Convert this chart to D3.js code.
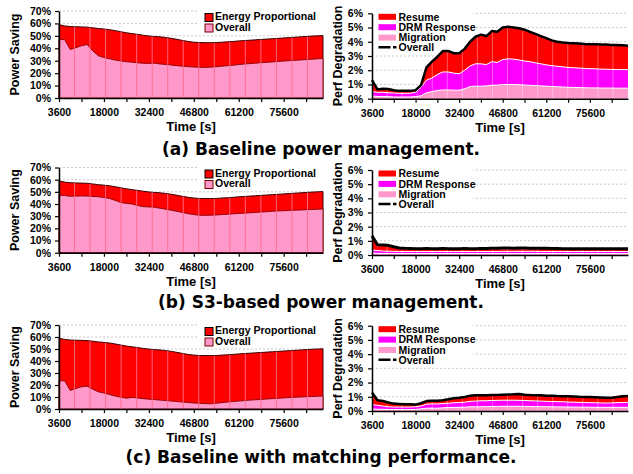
<!DOCTYPE html>
<html><head><meta charset="utf-8">
<script src="https://cdn.jsdelivr.net/npm/d3@7"></script>
<style>
body{margin:0;background:#fff}
svg{display:block}
text{font-family:"Liberation Sans",Arial,sans-serif;font-weight:bold;fill:#000}
</style>
</head><body>
<svg id="chart" width="633" height="474"></svg>
<script>
// ---------- data ----------
const timeSec = [
  3600, 5400, 7200, 9000, 10800, 12600, 14400, 16200, 18000, 19800,
  21600, 23400, 25200, 27000, 28800, 30600, 32400, 34200, 36000, 37800,
  39600, 41400, 43200, 45000, 46800, 48600, 50400, 52200, 54000, 55800,
  57600, 59400, 61200, 63000, 64800, 66600, 68400, 70200, 72000, 73800,
  75600, 77400, 79200, 81000, 82800, 84600, 86400, 88200];
const xLabelTicks = [3600, 18000, 32400, 46800, 61200, 75600];
const xMinorTicks = [3600, 10800, 18000, 25200, 32400, 39600, 46800, 54000, 61200, 68400, 75600, 82800];
const savingTicks = [0, 10, 20, 30, 40, 50, 60, 70];
const degradTicks = [0, 1, 2, 3, 4, 5, 6];
const captions = ["(a) Baseline power management.", "(b) S3-based power management.", "(c) Baseline with matching performance."];
const savingLegend = ["Energy Proportional", "Overall"];
const degradLegend = ["Resume", "DRM Response", "Migration", "Overall"];

// Power saving (%)
const energyProportional = [
  59.0, 58.0, 57.5, 57.3, 57.2, 57.0, 56.5, 55.9, 55.5, 55.0,
  54.2, 53.3, 52.5, 51.8, 51.2, 50.5, 49.9, 49.5, 49.2, 48.7,
  48.0, 47.2, 46.3, 45.5, 44.9, 44.6, 44.5, 44.5, 44.6, 44.9,
  45.2, 45.5, 45.9, 46.2, 46.5, 46.8, 47.1, 47.4, 47.7, 48.0,
  48.3, 48.6, 48.9, 49.2, 49.5, 49.8, 50.0, 50.2];
const savingA = [
  47.0, 47.0, 39.0, 40.5, 42.0, 43.0, 38.0, 34.0, 32.5, 31.5,
  30.5, 29.8, 29.2, 28.8, 28.3, 27.9, 27.8, 28.0, 27.4, 27.0,
  26.5, 26.0, 25.6, 25.2, 24.9, 24.7, 24.6, 24.8, 25.2, 25.6,
  26.0, 26.4, 26.9, 27.3, 27.7, 28.0, 28.4, 28.7, 29.0, 29.4,
  29.7, 30.0, 30.3, 30.6, 30.9, 31.2, 31.5, 31.8];
const savingB = [
  47.2, 47.0, 46.3, 46.5, 46.6, 46.5, 46.2, 46.0, 45.3, 44.5,
  43.0, 41.2, 40.5, 40.0, 38.8, 37.8, 37.6, 37.3, 36.5, 35.7,
  34.9, 34.0, 33.0, 32.0, 31.3, 30.8, 30.7, 30.8, 31.0, 31.3,
  31.6, 31.9, 32.2, 32.5, 32.8, 33.1, 33.4, 33.7, 34.0, 34.3,
  34.5, 34.7, 34.9, 35.1, 35.3, 35.5, 35.7, 35.9];
const savingC = [
  23.5, 23.5, 15.5, 17.0, 18.5, 19.0, 16.5, 14.3, 13.3, 12.0,
  10.8, 9.8, 9.0, 9.6, 9.2, 8.6, 8.2, 7.8, 7.4, 7.0,
  6.6, 6.2, 5.8, 5.4, 5.0, 4.7, 4.5, 4.3, 4.8, 5.3,
  5.8, 6.2, 6.6, 7.0, 7.4, 7.7, 8.0, 8.3, 8.6, 8.9,
  9.2, 9.5, 9.8, 10.0, 10.2, 10.4, 10.6, 10.8];

// Perf degradation (%) components
const migrationA = [
  0.2, 0.15, 0.15, 0.15, 0.12, 0.12, 0.12, 0.12, 0.15, 0.2,
  0.42, 0.5, 0.58, 0.62, 0.62, 0.6, 0.6, 0.7, 0.85, 0.88,
  0.88, 0.9, 0.95, 0.95, 1.0, 1.0, 1.0, 0.98, 0.96, 0.94,
  0.92, 0.9, 0.88, 0.86, 0.84, 0.82, 0.8, 0.79, 0.78, 0.77,
  0.76, 0.76, 0.75, 0.75, 0.75, 0.74, 0.74, 0.74];
const drmA = [
  0.3, 0.3, 0.3, 0.27, 0.28, 0.26, 0.26, 0.26, 0.3, 0.6,
  0.88, 0.95, 1.12, 1.26, 1.26, 1.2, 1.15, 1.3, 1.45, 1.57,
  1.57, 1.5, 1.65, 1.6, 1.75, 1.8, 1.78, 1.74, 1.69, 1.66,
  1.6, 1.55, 1.5, 1.46, 1.44, 1.42, 1.4, 1.39, 1.37, 1.36,
  1.35, 1.34, 1.33, 1.32, 1.31, 1.31, 1.31, 1.3];
const resumeA = [
  0.8, 0.2, 0.25, 0.26, 0.2, 0.17, 0.17, 0.17, 0.15, 0.15,
  0.9, 1.15, 1.25, 1.47, 1.47, 1.4, 1.45, 1.5, 1.7, 1.9,
  2.05, 2.0, 2.15, 2.15, 2.25, 2.25, 2.22, 2.23, 2.2, 2.1,
  2.03, 1.95, 1.87, 1.78, 1.72, 1.71, 1.72, 1.72, 1.73, 1.72,
  1.72, 1.72, 1.72, 1.73, 1.72, 1.72, 1.71, 1.68];
const perfA = [
  1.3, 0.65, 0.7, 0.68, 0.6, 0.55, 0.55, 0.55, 0.6, 0.95,
  2.2, 2.6, 2.95, 3.35, 3.35, 3.2, 3.2, 3.5, 4.0, 4.35,
  4.5, 4.4, 4.75, 4.7, 5.0, 5.05, 5.0, 4.95, 4.85, 4.7,
  4.55, 4.4, 4.25, 4.1, 4.0, 3.95, 3.92, 3.9, 3.88, 3.85,
  3.83, 3.82, 3.8, 3.8, 3.78, 3.77, 3.76, 3.72];

const migrationB = [
  0.15, 0.12, 0.1, 0.1, 0.1, 0.1, 0.1, 0.1, 0.1, 0.1,
  0.1, 0.1, 0.1, 0.1, 0.1, 0.1, 0.1, 0.1, 0.1, 0.1,
  0.1, 0.1, 0.1, 0.1, 0.1, 0.1, 0.1, 0.1, 0.1, 0.1,
  0.1, 0.1, 0.1, 0.1, 0.1, 0.1, 0.1, 0.1, 0.1, 0.1,
  0.1, 0.1, 0.1, 0.1, 0.1, 0.1, 0.1, 0.1];
const drmB = [
  0.2, 0.2, 0.18, 0.17, 0.16, 0.15, 0.15, 0.15, 0.15, 0.15,
  0.15, 0.15, 0.15, 0.15, 0.15, 0.15, 0.15, 0.15, 0.15, 0.15,
  0.15, 0.15, 0.15, 0.15, 0.16, 0.16, 0.16, 0.16, 0.16, 0.16,
  0.16, 0.15, 0.15, 0.15, 0.15, 0.15, 0.15, 0.15, 0.15, 0.15,
  0.15, 0.15, 0.15, 0.15, 0.15, 0.15, 0.15, 0.15];
const resumeB = [
  0.85, 0.3, 0.35, 0.35, 0.28, 0.2, 0.16, 0.15, 0.15, 0.15,
  0.15, 0.15, 0.15, 0.15, 0.15, 0.15, 0.15, 0.15, 0.15, 0.15,
  0.15, 0.15, 0.15, 0.15, 0.15, 0.15, 0.15, 0.15, 0.15, 0.15,
  0.15, 0.15, 0.15, 0.15, 0.15, 0.15, 0.15, 0.15, 0.15, 0.15,
  0.15, 0.15, 0.15, 0.15, 0.15, 0.15, 0.15, 0.15];
const perfB = [
  1.35, 0.72, 0.7, 0.68, 0.58, 0.5, 0.47, 0.46, 0.45, 0.45,
  0.46, 0.45, 0.45, 0.46, 0.45, 0.45, 0.45, 0.46, 0.45, 0.45,
  0.46, 0.46, 0.47, 0.48, 0.49, 0.49, 0.48, 0.49, 0.49, 0.48,
  0.48, 0.47, 0.47, 0.46, 0.46, 0.45, 0.45, 0.45, 0.45, 0.45,
  0.45, 0.45, 0.45, 0.45, 0.45, 0.45, 0.45, 0.45];

const migrationC = [
  0.15, 0.12, 0.12, 0.1, 0.1, 0.1, 0.1, 0.1, 0.1, 0.15,
  0.2, 0.2, 0.2, 0.22, 0.25, 0.25, 0.26, 0.27, 0.3, 0.3,
  0.3, 0.31, 0.32, 0.32, 0.33, 0.33, 0.33, 0.33, 0.32, 0.32,
  0.31, 0.31, 0.3, 0.3, 0.29, 0.29, 0.28, 0.28, 0.27, 0.27,
  0.27, 0.26, 0.26, 0.26, 0.26, 0.26, 0.26, 0.26];
const drmC = [
  0.3, 0.28, 0.23, 0.2, 0.18, 0.18, 0.18, 0.18, 0.2, 0.2,
  0.28, 0.3, 0.3, 0.3, 0.3, 0.33, 0.34, 0.35, 0.38, 0.4,
  0.42, 0.41, 0.42, 0.43, 0.43, 0.43, 0.43, 0.42, 0.42, 0.4,
  0.4, 0.39, 0.38, 0.37, 0.37, 0.36, 0.35, 0.34, 0.34, 0.33,
  0.32, 0.32, 0.31, 0.3, 0.31, 0.33, 0.34, 0.35];
const resumeC = [
  0.85, 0.35, 0.35, 0.3, 0.24, 0.22, 0.2, 0.2, 0.15, 0.2,
  0.22, 0.22, 0.22, 0.23, 0.27, 0.32, 0.33, 0.36, 0.4, 0.4,
  0.38, 0.38, 0.38, 0.38, 0.39, 0.4, 0.41, 0.45, 0.41, 0.4,
  0.39, 0.4, 0.4, 0.4, 0.39, 0.39, 0.4, 0.4, 0.39, 0.39,
  0.39, 0.39, 0.38, 0.37, 0.36, 0.39, 0.43, 0.44];
const perfC = [
  1.3, 0.75, 0.7, 0.6, 0.52, 0.5, 0.48, 0.48, 0.45, 0.55,
  0.7, 0.72, 0.72, 0.75, 0.82, 0.9, 0.93, 0.98, 1.08, 1.1,
  1.1, 1.1, 1.12, 1.13, 1.15, 1.16, 1.17, 1.2, 1.15, 1.12,
  1.1, 1.1, 1.08, 1.07, 1.05, 1.04, 1.03, 1.02, 1.0, 0.99,
  0.98, 0.97, 0.95, 0.93, 0.93, 0.98, 1.03, 1.05];

// ---------- layout ----------
const rows = [
  {L: {x0: 59, x1: 323, y0: 11, y1: 98}, R: {x0: 372, x1: 628, y0: 13.3, y1: 98.7}, cap: 155,
   saving: savingA, mig: migrationA, drm: drmA, res: resumeA, perf: perfA, lw: 2.5},
  {L: {x0: 59, x1: 323, y0: 167.5, y1: 252.7}, R: {x0: 372, x1: 628, y0: 170, y1: 255}, cap: 307.5,
   saving: savingB, mig: migrationB, drm: drmB, res: resumeB, perf: perfB, lw: 3},
  {L: {x0: 59, x1: 323, y0: 325, y1: 409}, R: {x0: 372, x1: 628, y0: 325.7, y1: 411}, cap: 462.5,
   saving: savingC, mig: migrationC, drm: drmC, res: resumeC, perf: perfC, lw: 2.5}
];
const RED = "#ff0000", PINK = "#ff99cc", MAG = "#ff00ff";
const svg = d3.select("#chart");
const nSeams = 17;

function styleAxis(ax, fs) {
  ax.attr("font-family", null).attr("font-size", null);
  ax.select(".domain").attr("stroke", "#000").attr("stroke-width", 1.5);
  ax.selectAll(".tick line").attr("stroke", "#000").attr("stroke-width", 1.2);
  ax.selectAll(".tick text").style("font-size", fs + "px");
}

function axesAndTitles(g, r, x, y, yTicks, yTitle, yPad, titleX) {
  const ay = g.append("g").attr("transform", `translate(${r.x0},0)`)
    .call(d3.axisLeft(y).tickValues(yTicks).tickFormat(d => d + "%").tickSize(4).tickSizeOuter(0).tickPadding(yPad));
  styleAxis(ay, 10.5);
  const ax = g.append("g").attr("transform", `translate(0,${r.y1})`)
    .call(d3.axisBottom(x).tickValues(xMinorTicks).tickFormat(d => xLabelTicks.includes(d) ? d : "").tickSize(4).tickSizeOuter(0).tickPadding(7));
  styleAxis(ax, 10.5);
  g.append("text").attr("x", (r.x0 + r.x1) / 2).attr("y", r.y1 + 33).attr("text-anchor", "middle")
    .style("font-size", "13px").text("Time [s]");
  g.append("text").attr("transform", `translate(${titleX},${(r.y0 + r.y1) / 2}) rotate(-90)`)
    .attr("text-anchor", "middle").attr("dominant-baseline", "central")
    .style("font-size", "12.5px").text(yTitle);
}

function seams(g, r, clipId, color, opacity) {
  const step = (r.x1 - r.x0) / nSeams;
  g.append("g").attr("clip-path", `url(#${clipId})`)
    .selectAll("line").data(d3.range(1, nSeams)).join("line")
    .attr("x1", k => r.x0 + k * step).attr("x2", k => r.x0 + k * step)
    .attr("y1", r.y0).attr("y2", r.y1)
    .attr("stroke", color).attr("stroke-opacity", opacity).attr("stroke-width", 1);
}

function leftPanel(row, idx) {
  const r = row.L;
  const g = svg.append("g");
  const x = d3.scaleLinear().domain([timeSec[0], timeSec[timeSec.length - 1]]).range([r.x0, r.x1]);
  const y = d3.scaleLinear().domain([0, 70]).range([r.y1, r.y0]);
  g.selectAll(null).data(savingTicks.filter(d => d > 0)).join("line")
    .attr("x1", r.x0).attr("x2", r.x1).attr("y1", d => y(d)).attr("y2", d => y(d))
    .attr("stroke", "#bdbdbd").attr("stroke-width", 0.8).attr("stroke-dasharray", "2,2");
  g.append("rect").attr("x", 199).attr("y", r.y0 - 1).attr("width", r.x1 - 199).attr("height", 23.5).attr("fill", "#fff");

  const ep = d3.area().x((d, i) => x(timeSec[i])).y0(y(0)).y1(d => y(d));
  const epPath = ep(energyProportional);
  g.append("clipPath").attr("id", "clipL" + idx).append("path").attr("d", epPath);
  g.append("path").attr("d", epPath).attr("fill", RED).attr("stroke", "#3a0000").attr("stroke-width", 1);
  g.append("path").attr("d", ep(row.saving)).attr("fill", PINK).attr("stroke", "#8b0000").attr("stroke-width", 0.9);
  seams(g, r, "clipL" + idx, "#ff6a88", 0.9);

  axesAndTitles(g, r, x, y, savingTicks, "Power Saving", 4, 15);

  // legend
  const lx = 205, ly = r.y0 + 2.5;
  g.append("rect").attr("x", lx).attr("y", ly).attr("width", 8).attr("height", 8).attr("fill", RED).attr("stroke", "#000").attr("stroke-width", 1);
  g.append("rect").attr("x", lx).attr("y", ly + 10.5).attr("width", 8).attr("height", 8).attr("fill", PINK).attr("stroke", "#7a0000").attr("stroke-width", 1);
  g.append("text").attr("x", lx + 10).attr("y", ly + 6.5).style("font-size", "10.5px").text(savingLegend[0]);
  g.append("text").attr("x", lx + 10).attr("y", ly + 17).style("font-size", "10.5px").text(savingLegend[1]);
}

function rightPanel(row, idx) {
  const r = row.R;
  const g = svg.append("g");
  const x = d3.scaleLinear().domain([timeSec[0], timeSec[timeSec.length - 1]]).range([r.x0, r.x1]);
  const y = d3.scaleLinear().domain([0, 6]).range([r.y1, r.y0]);
  g.selectAll(null).data(degradTicks.filter(d => d > 0)).join("line")
    .attr("x1", r.x0).attr("x2", r.x1).attr("y1", d => y(d)).attr("y2", d => y(d))
    .attr("stroke", "#bdbdbd").attr("stroke-width", 0.8).attr("stroke-dasharray", "2,2");
  g.append("rect").attr("x", r.x0 + 1).attr("y", r.y0 - 1).attr("width", 473 - r.x0 - 1).attr("height", 40).attr("fill", "#fff");

  const table = timeSec.map((t, i) => ({t, mig: row.mig[i], drm: row.drm[i], res: row.res[i]}));
  const stack = d3.stack().keys(["mig", "drm", "res"])(table);
  const area = d3.area().x(d => x(d.data.t)).y0(d => y(d[0])).y1(d => y(d[1]));
  const colors = [PINK, MAG, RED];
  g.append("clipPath").attr("id", "clipR" + idx).append("path").attr("d", area(stack[2].map(d => { const e = [0, d[1]]; e.data = d.data; return e; })));
  stack.forEach((s, k) => g.append("path").attr("d", area(s)).attr("fill", colors[k]));
  const topLine = d3.line().x(d => x(d.data.t)).y(d => y(d[1]));
  [0, 1].forEach(k => g.append("path").attr("d", topLine(stack[k])).attr("fill", "none").attr("stroke", "#fff").attr("stroke-width", 1));
  seams(g, r, "clipR" + idx, "#ffffff", 0.35);
  const ov = d3.line().x((d, i) => x(timeSec[i])).y(d => y(d));
  g.append("path").attr("d", ov(row.perf)).attr("fill", "none").attr("stroke", "#000").attr("stroke-width", row.lw).attr("stroke-linejoin", "round");

  axesAndTitles(g, r, x, y, degradTicks, "Perf Degradation", 5, 338);

  // legend
  const lx = 378.5, ly = r.y0;
  [RED, MAG, PINK].forEach((c, k) => {
    g.append("rect").attr("x", lx).attr("y", ly + 0.5 + k * 10.4).attr("width", 17.5).attr("height", 6).attr("fill", c);
  });
  g.append("line").attr("x1", lx).attr("x2", lx + 18).attr("y1", ly + 34).attr("y2", ly + 34)
    .attr("stroke", "#000").attr("stroke-width", 2.5).attr("stroke-dasharray", "12,2.5,4");
  degradLegend.forEach((t, k) => {
    g.append("text").attr("x", lx + 20).attr("y", ly + 7.2 + k * 10.3).style("font-size", "10.5px").text(t);
  });
}

rows.forEach((row, i) => {
  leftPanel(row, i);
  rightPanel(row, i);
  svg.append("text").attr("x", 321).attr("y", row.cap).attr("text-anchor", "middle")
    .style("font-family", "'DejaVu Sans',sans-serif").style("font-size", "17px").text(captions[i]);
});
</script>
</body></html>
